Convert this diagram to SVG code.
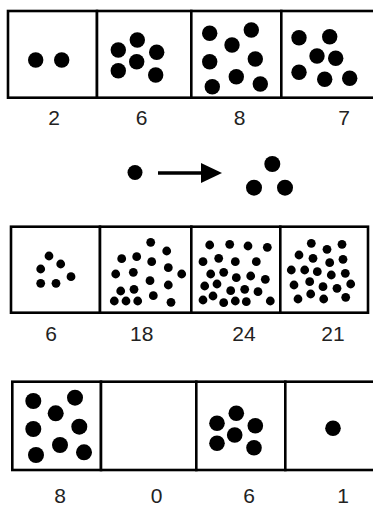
<svg xmlns="http://www.w3.org/2000/svg" width="373" height="507" viewBox="0 0 373 507">
<defs>
<style>
.box{fill:#fff;stroke:#000;stroke-width:2.6}
.d{fill:#000}
.lbl{font-family:"Liberation Sans","DejaVu Sans",sans-serif;font-size:21px;fill:#222;text-anchor:middle}
</style>
<marker id="ah" markerUnits="userSpaceOnUse" markerWidth="21" markerHeight="21" refX="0" refY="10" orient="auto">
<path d="M0,0 L21,10 L0,20 z" fill="#000"/>
</marker>
</defs>
<rect width="373" height="507" fill="#fff"/>

<!-- Row 1 -->
<g id="r1c1">
<rect class="box" x="8" y="11" width="89" height="86.7"/>
<g class="d"><circle cx="35.7" cy="60" r="7.7"/><circle cx="61.7" cy="60" r="7.7"/></g>
<text class="lbl" x="54" y="125">2</text>
</g>
<g id="r1c2">
<rect class="box" x="97" y="11" width="94.3" height="86.7"/>
<g class="d">
<circle cx="118.3" cy="50" r="7.7"/><circle cx="137.3" cy="40" r="7.7"/><circle cx="156.7" cy="52.3" r="7.7"/>
<circle cx="136.7" cy="61.7" r="7.7"/><circle cx="118.3" cy="70.7" r="7.7"/><circle cx="155.7" cy="75" r="7.7"/>
</g>
<text class="lbl" x="141.7" y="125">6</text>
</g>
<g id="r1c3">
<rect class="box" x="191.3" y="11" width="90" height="86.7"/>
<g class="d">
<circle cx="209.7" cy="33.3" r="7.7"/><circle cx="251.3" cy="30" r="7.7"/><circle cx="232" cy="45" r="7.7"/>
<circle cx="209.7" cy="61.7" r="7.7"/><circle cx="255.3" cy="59" r="7.7"/><circle cx="236.3" cy="76.7" r="7.7"/>
<circle cx="212.3" cy="86.7" r="7.7"/><circle cx="260.3" cy="84" r="7.7"/>
</g>
<text class="lbl" x="239.7" y="125">8</text>
</g>
<g id="r1c4">
<rect class="box" x="281.3" y="11" width="100" height="86.7"/>
<g class="d">
<circle cx="299" cy="37.7" r="7.7"/><circle cx="329.7" cy="36.7" r="7.7"/><circle cx="317" cy="56" r="7.7"/>
<circle cx="335.7" cy="58.3" r="7.7"/><circle cx="299" cy="72.3" r="7.7"/><circle cx="324.7" cy="79.3" r="7.7"/>
<circle cx="349.7" cy="78.3" r="7.7"/>
</g>
<text class="lbl" x="344" y="125">7</text>
</g>

<!-- Arrow legend -->
<g id="one"><circle class="d" cx="135" cy="172.5" r="7.5"/></g>
<g id="three" class="d">
<circle cx="272.3" cy="164" r="8"/><circle cx="254" cy="187.7" r="8"/><circle cx="285" cy="187.7" r="8"/>
</g>
<g id="connectors">
<line x1="158" y1="173" x2="201" y2="173" stroke="#000" stroke-width="3.6" marker-end="url(#ah)"/>
</g>

<!-- Row 2 -->
<g id="r2c1">
<rect class="box" x="11" y="226.7" width="89" height="86"/>
<g class="d">
<circle cx="49" cy="256" r="4.4"/><circle cx="40.7" cy="269" r="4.4"/><circle cx="60.7" cy="264" r="4.4"/>
<circle cx="71" cy="276.7" r="4.4"/><circle cx="40.7" cy="283.3" r="4.4"/><circle cx="56" cy="283.3" r="4.4"/>
</g>
<text class="lbl" x="51" y="341">6</text>
</g>
<g id="r2c2">
<rect class="box" x="100" y="226.7" width="91.3" height="86"/>
<g class="d">
<circle cx="150.7" cy="242.3" r="4.4"/><circle cx="166.7" cy="251" r="4.4"/><circle cx="121.7" cy="258.7" r="4.4"/>
<circle cx="136.7" cy="256.7" r="4.4"/><circle cx="151.7" cy="261.7" r="4.4"/><circle cx="168.3" cy="267.7" r="4.4"/>
<circle cx="115.7" cy="274" r="4.4"/><circle cx="133.3" cy="272.3" r="4.4"/><circle cx="181.7" cy="274" r="4.4"/>
<circle cx="150" cy="280.7" r="4.4"/><circle cx="168.3" cy="285" r="4.4"/><circle cx="120.7" cy="291" r="4.4"/>
<circle cx="134" cy="289.3" r="4.4"/><circle cx="153.3" cy="295.7" r="4.4"/><circle cx="114.3" cy="301" r="4.4"/>
<circle cx="126" cy="301" r="4.4"/><circle cx="137.7" cy="301" r="4.4"/><circle cx="171" cy="302.3" r="4.4"/>
</g>
<text class="lbl" x="141.7" y="341">18</text>
</g>
<g id="r2c3">
<rect class="box" x="191.3" y="226.7" width="89" height="86"/>
<g class="d">
<circle cx="209.7" cy="245" r="4.4"/><circle cx="229.7" cy="244.3" r="4.4"/><circle cx="248" cy="246" r="4.4"/><circle cx="267.3" cy="247.3" r="4.4"/>
<circle cx="203" cy="261.7" r="4.4"/><circle cx="218.7" cy="258.3" r="4.4"/><circle cx="235.3" cy="261.7" r="4.4"/><circle cx="256.3" cy="261.7" r="4.4"/>
<circle cx="210.7" cy="274" r="4.4"/><circle cx="223.7" cy="272.3" r="4.4"/><circle cx="236.3" cy="277.7" r="4.4"/><circle cx="250.7" cy="276" r="4.4"/><circle cx="265.3" cy="279.3" r="4.4"/>
<circle cx="204.7" cy="286" r="4.4"/><circle cx="217" cy="284" r="4.4"/><circle cx="230.7" cy="290.7" r="4.4"/><circle cx="244.7" cy="289.3" r="4.4"/><circle cx="258" cy="291.7" r="4.4"/>
<circle cx="203" cy="300" r="4.4"/><circle cx="213" cy="296" r="4.4"/><circle cx="223.7" cy="302.7" r="4.4"/><circle cx="235.3" cy="301" r="4.4"/><circle cx="246.3" cy="301.7" r="4.4"/><circle cx="270.3" cy="301" r="4.4"/>
</g>
<text class="lbl" x="244" y="341">24</text>
</g>
<g id="r2c4">
<rect class="box" x="280.3" y="226.7" width="87.7" height="86"/>
<g class="d">
<circle cx="311.3" cy="243.3" r="4.4"/><circle cx="327" cy="249.3" r="4.4"/><circle cx="342" cy="244.3" r="4.4"/>
<circle cx="299" cy="255" r="4.4"/><circle cx="313" cy="258.3" r="4.4"/><circle cx="329.7" cy="262.7" r="4.4"/><circle cx="343" cy="259.3" r="4.4"/>
<circle cx="291.3" cy="270" r="4.4"/><circle cx="304.7" cy="270" r="4.4"/><circle cx="317.3" cy="271.7" r="4.4"/><circle cx="331.3" cy="275" r="4.4"/><circle cx="345.3" cy="273.3" r="4.4"/>
<circle cx="294" cy="285" r="4.4"/><circle cx="309.7" cy="281.7" r="4.4"/><circle cx="323" cy="286.7" r="4.4"/><circle cx="337" cy="288.3" r="4.4"/><circle cx="350.7" cy="284" r="4.4"/>
<circle cx="298" cy="299" r="4.4"/><circle cx="310.7" cy="294" r="4.4"/><circle cx="323.7" cy="299" r="4.4"/><circle cx="345.7" cy="297.3" r="4.4"/>
</g>
<text class="lbl" x="333" y="341">21</text>
</g>

<!-- Row 3 -->
<g id="r3c1">
<rect class="box" x="12.3" y="381.7" width="88.7" height="88.3"/>
<g class="d">
<circle cx="33.3" cy="401" r="8"/><circle cx="75" cy="397.7" r="8"/><circle cx="55.7" cy="413.3" r="8"/>
<circle cx="33.3" cy="429" r="8"/><circle cx="79.3" cy="426.7" r="8"/><circle cx="60" cy="445" r="8"/>
<circle cx="36" cy="455" r="8"/><circle cx="84" cy="452.3" r="8"/>
</g>
<text class="lbl" x="60" y="503">8</text>
</g>
<g id="r3c2">
<rect class="box" x="101" y="381.7" width="95.3" height="88.3"/>
<text class="lbl" x="156.7" y="503">0</text>
</g>
<g id="r3c3">
<rect class="box" x="196.3" y="381.7" width="89" height="88.3"/>
<g class="d">
<circle cx="217" cy="423.3" r="7.8"/><circle cx="236.3" cy="413.3" r="7.8"/><circle cx="255.3" cy="425.7" r="7.8"/>
<circle cx="234.7" cy="435" r="7.8"/><circle cx="217" cy="443.3" r="7.8"/><circle cx="254" cy="447.7" r="7.8"/>
</g>
<text class="lbl" x="249" y="503">6</text>
</g>
<g id="r3c4">
<rect class="box" x="285.3" y="381.7" width="100" height="88.3"/>
<circle class="d" cx="333" cy="428.3" r="7.8"/>
<text class="lbl" x="343" y="503">1</text>
</g>
</svg>
